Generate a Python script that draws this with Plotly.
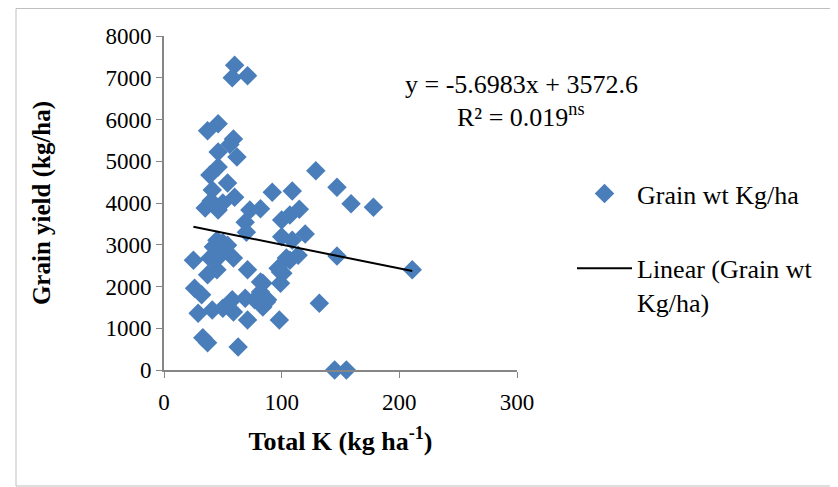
import plotly.graph_objects as go

# Data
total_k = [60, 58, 71,
           37, 46, 59, 56, 46, 62,
           39, 46, 54, 41, 35, 46, 60, 73, 82, 92, 109, 129, 147, 159, 178, 115, 50, 40,
           100, 107, 69, 70, 120, 100, 109,
           45, 54, 42, 50,
           114, 147, 104, 97, 101, 99, 84, 87, 132, 98, 145, 155, 211,
           25, 39, 48, 59, 37, 45, 71, 26, 32, 29, 41, 50, 59, 58, 69, 82, 82, 88, 71,
           33, 37, 63, 99, 107, 77, 84]
grain_yield = [7300, 7000, 7050,
               5730, 5900, 5530, 5400, 5220, 5100,
               4670, 4860, 4480, 4310, 3880, 3830, 4140, 3830, 3860, 4260, 4290, 4770, 4380, 3980, 3900, 3850, 4000, 4050,
               3590, 3710, 3540, 3300, 3260, 3190, 3110,
               3110, 2990, 2950, 3050,
               2750, 2730, 2680, 2440, 2320, 2080, 2080, 1630, 1600, 1200, 0, 0, 2400,
               2630, 2680, 2750, 2680, 2280, 2400, 2400, 1960, 1800, 1360, 1440, 1480, 1390, 1680, 1720, 1870, 2110, 1680, 1200,
               770, 650, 550, 2350, 2630, 1680, 1510]

slope = -5.6983
intercept = 3572.6
r_squared = "0.019"

x_ticks = [0, 100, 200, 300]
y_ticks = [0, 1000, 2000, 3000, 4000, 5000, 6000, 7000, 8000]

FONT = "Liberation Serif"
BLUE = "#4A7EBB"
AXIS = "#868686"

x_lo, x_hi = min(total_k), max(total_k)
trend_x = [x_lo, x_hi]
trend_y = [slope * v + intercept for v in trend_x]

fig = go.Figure()
fig.add_trace(go.Scatter(
    x=total_k, y=grain_yield, mode="markers", name="Grain wt Kg/ha",
    legendgroup="pts",
    marker=dict(symbol="diamond", size=15, color=BLUE, line=dict(width=0)),
    cliponaxis=False,
))
fig.add_trace(go.Scatter(
    x=trend_x, y=trend_y, mode="lines", name="Linear (Grain wt<br>Kg/ha)",
    legendgroup="fit",
    line=dict(color="black", width=2),
))

# Page body has an 8px margin: work in window pixels, offset by 8
OFF = 8
W, H = 838 - OFF, 487 - OFF
L, T = 164 - OFF, 36 - OFF
pw, ph = 353, 334
R, B = W - L - pw, H - T - ph

def px_x(p):
    return (p - OFF - L) / pw
def px_y(p):
    return (H - B - (p - OFF)) / ph

fig.add_shape(type="rect", xref="paper", yref="paper",
              x0=px_x(16), x1=px_x(837), y0=px_y(486), y1=px_y(8.5),
              line=dict(color="#BFBFBF", width=1), fillcolor="rgba(0,0,0,0)", layer="below")

fig.add_annotation(xref="paper", yref="paper", x=px_x(521), y=px_y(84),
                   text=f"y = {slope}x + {intercept}", showarrow=False,
                   font=dict(family=FONT, size=26, color="black"), xanchor="center", yanchor="middle")
fig.add_annotation(xref="paper", yref="paper", x=px_x(520), y=px_y(115),
                   text=f"R² = {r_squared}<sup>ns</sup>", showarrow=False,
                   font=dict(family=FONT, size=26, color="black"), xanchor="center", yanchor="middle")

fig.update_layout(
    width=W, height=H,
    margin=dict(l=L, r=R, t=T, b=B),
    paper_bgcolor="white", plot_bgcolor="white",
    font=dict(family=FONT, size=23, color="black"),
    showlegend=True,
    legend=dict(x=px_x(572), y=px_y(170), xanchor="left", yanchor="top",
                font=dict(family=FONT, size=26, color="black"),
                itemwidth=55, tracegroupgap=38, valign="top",
                bgcolor="rgba(0,0,0,0)"),
    xaxis=dict(range=[0, 300], tickvals=x_ticks, ticks="outside", ticklen=6,
               tickcolor=AXIS, showline=True, linecolor=AXIS, linewidth=2,
               showgrid=False, zeroline=False, ticklabelstandoff=4,
               tickfont=dict(family=FONT, size=23),
               title=dict(text="<b>Total K (kg ha<sup>-1</sup>)</b>", standoff=18,
                          font=dict(family=FONT, size=26))),
    yaxis=dict(range=[0, 8000], tickvals=y_ticks, ticks="outside", ticklen=6,
               tickcolor=AXIS, showline=True, linecolor=AXIS, linewidth=2,
               showgrid=False, zeroline=False,
               tickfont=dict(family=FONT, size=23),
               title=dict(text="<b>Grain yield (kg/ha)</b>", standoff=48,
                          font=dict(family=FONT, size=25))),
)

fig.write_html("out.html")
